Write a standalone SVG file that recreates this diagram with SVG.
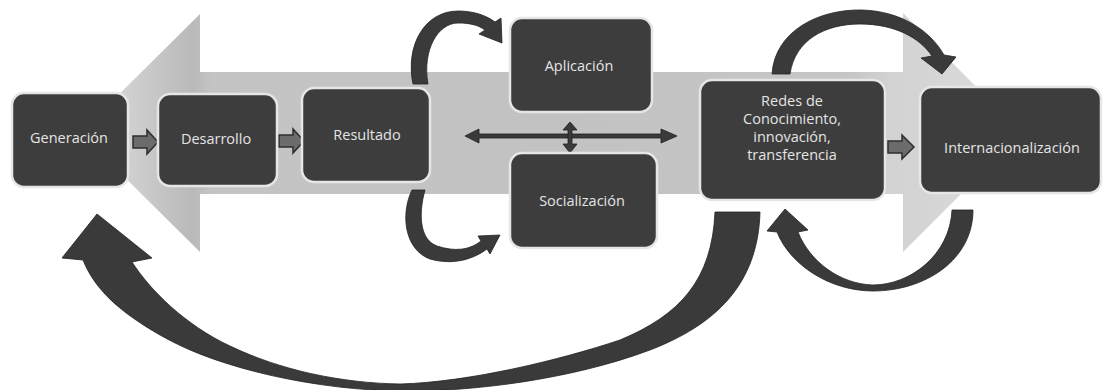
<svg xmlns="http://www.w3.org/2000/svg" width="1103" height="390" viewBox="0 0 1103 390">
  <defs>
    <linearGradient id="band" x1="0" y1="0" x2="1" y2="0">
      <stop offset="0" stop-color="#e2e2e2"/>
      <stop offset="0.12" stop-color="#b9b9b9"/>
      <stop offset="0.14" stop-color="#c4c4c4"/>
      <stop offset="0.5" stop-color="#c2c2c2"/>
      <stop offset="0.82" stop-color="#c6c6c6"/>
      <stop offset="0.86" stop-color="#d2d2d2"/>
      <stop offset="1" stop-color="#dcdcdc"/>
    </linearGradient>
    <style>
      .box { fill: #3d3d3d; stroke: #e6e6e6; stroke-width: 2.5; }
      .lbl { font-family: "Open Sans", "Liberation Sans", sans-serif; font-size: 14.5px; fill: #e4e4e4; text-anchor: middle; }
      .curve { fill: #3a3a3a; stroke: #222222; stroke-width: 0.8; stroke-linejoin: round; }
      .blk { fill: #6c6c6c; stroke: #2e2e2e; stroke-width: 1.5; stroke-linejoin: miter; }
      .dbl { fill: #3a3a3a; stroke: #1e1e1e; stroke-width: 0.8; }
    </style>
  </defs>
  <rect width="1103" height="390" fill="#ffffff"/>

  <!-- background double-headed arrow -->
  <polygon id="background-arrow" fill="url(#band)" points="80,133 200,14 200,72 903,72 903,13 1022,133 903,252 903,194 200,194 200,252"/>

  <g id="connectors">
    <!-- Generación -> Desarrollo -->
    <polygon class="blk" points="133,136 147,136 147,130 158,142 147,154 147,148 133,148"/>
    <!-- Desarrollo -> Resultado -->
    <polygon class="blk" points="279,135 293,135 293,129 304,141 293,153 293,147 279,147"/>
    <!-- Redes -> Internacionalización -->
    <polygon class="blk" points="888,141 902,141 902,135 914,147 902,159 902,153 888,153"/>

    <!-- horizontal double arrow -->
    <polygon class="dbl" points="465,136 479,129 479,134 661,134 661,129 677,136 661,143 661,138 479,138 479,143"/>
    <!-- vertical double arrow -->
    <polygon class="dbl" points="570,122 577,130 572,130 572,144 577,144 570,153 563,144 568,144 568,130 563,130"/>

    <!-- Resultado -> Aplicación (top curved) -->
    <path class="curve" d="M413,84 C405,45 425,11 458,11 C475,11 487,16 495,22 L501,18 L502,43 L479,34 L485,30 C478,25 470,23 458,23 C438,23 422,50 428,84 Z"/>
    <!-- Resultado -> Socialización (bottom curved) -->
    <path class="curve" d="M412,190 C400,215 405,250 430,259 C455,266 475,258 487,249 L490,254 L500,235 L478,236 L481,241 C470,250 455,252 437,246 C420,240 418,215 425,190 Z"/>
    <!-- Redes -> Internacionalización (top arc) -->
    <path class="curve" d="M772,74 C775,30 820,9 862,10 C900,11 930,30 944,55 L956,57 L942,74 L921,58 L932,56 C920,38 895,24 860,24 C825,24 795,40 790,74 Z"/>
    <!-- Internacionalización -> Redes (bottom arc) -->
    <path class="curve" d="M973,210 C973,260 925,291 873,291 C830,291 790,265 777,232 L767,231 L785,209 L808,230 L798,232 C810,262 840,284 873,285 C910,285 950,255 952,210 Z"/>
    <!-- Redes -> Generación (big arc) -->
    <path class="curve" d="M760,212 C758,285 715,325 650,350 C570,380 470,392 400,391 C320,390 220,370 160,335 C120,312 95,290 83,260 L62,258 L97,214 L152,258 L132,262 C150,290 185,325 230,346 C280,370 340,383 400,384 C470,382 560,360 620,340 C680,315 712,280 715,212 Z"/>
  </g>

  <g id="node-generacion">
    <rect class="box" x="12" y="93" width="116" height="94" rx="12"/>
    <text class="lbl" x="69" y="143">Generación</text>
  </g>
  <g id="node-desarrollo">
    <rect class="box" x="158" y="94" width="119" height="92" rx="12"/>
    <text class="lbl" x="216" y="144">Desarrollo</text>
  </g>
  <g id="node-resultado">
    <rect class="box" x="302" y="88" width="128" height="94" rx="12"/>
    <text class="lbl" x="367" y="140">Resultado</text>
  </g>
  <g id="node-aplicacion">
    <rect class="box" x="510" y="18" width="142" height="94" rx="12"/>
    <text class="lbl" x="579" y="71">Aplicación</text>
  </g>
  <g id="node-socializacion">
    <rect class="box" x="510" y="153" width="147" height="95" rx="12"/>
    <text class="lbl" x="582" y="206">Socialización</text>
  </g>
  <g id="node-redes">
    <rect class="box" x="700" y="80" width="185" height="120" rx="12"/>
    <text class="lbl" x="792" y="106">Redes de</text>
    <text class="lbl" x="792" y="124">Conocimiento,</text>
    <text class="lbl" x="792" y="142">innovación,</text>
    <text class="lbl" x="792" y="160">transferencia</text>
  </g>
  <g id="node-internacionalizacion">
    <rect class="box" x="920" y="87" width="181" height="106" rx="12"/>
    <text class="lbl" x="1012" y="153">Internacionalización</text>
  </g>
</svg>
